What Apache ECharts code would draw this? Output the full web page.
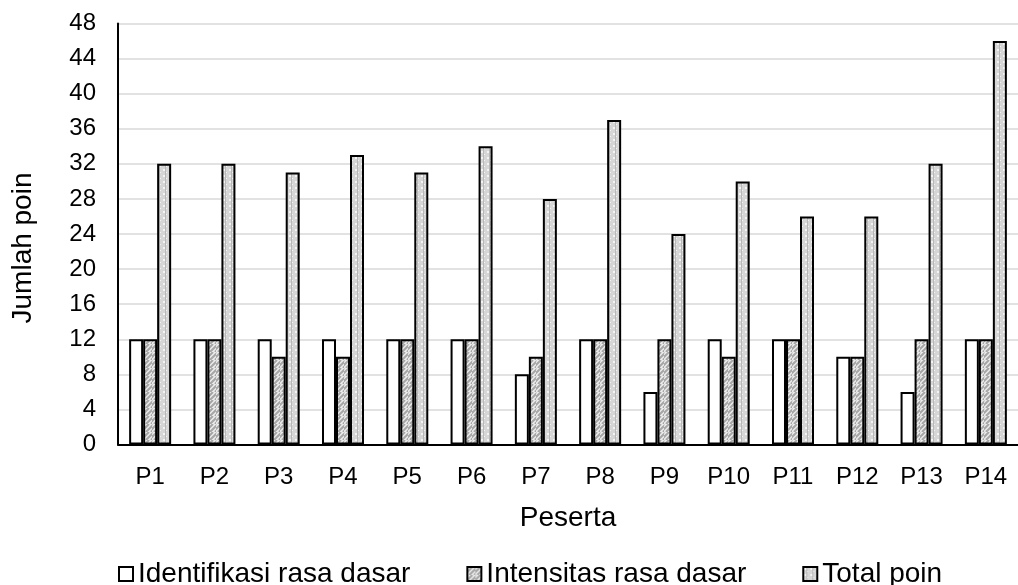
<!DOCTYPE html>
<html>
<head>
<meta charset="utf-8">
<script src="https://cdn.jsdelivr.net/npm/echarts@6/dist/echarts.min.js"></script>
<style>
html,body{margin:0;padding:0;background:#fff;}
#chart{width:1018px;height:585px;}
</style>
</head>
<body>
<div id="chart"></div>
<script>
const categories = ['P1','P2','P3','P4','P5','P6','P7','P8','P9','P10','P11','P12','P13','P14'];
const identifikasi = [12,12,12,12,12,12,8,12,6,12,12,10,6,12];
const intensitas = [12,12,10,10,12,12,10,12,12,10,12,10,12,12];
const totalPoin = [32,32,31,33,31,34,28,37,24,30,26,26,32,46];
const seriesNames = ['Identifikasi rasa dasar','Intensitas rasa dasar','Total poin'];

// diagonal hatch fill
function hatchPattern() {
  const c = document.createElement('canvas');
  c.width = 8; c.height = 8;
  const g = c.getContext('2d');
  g.fillStyle = '#ececec';
  g.fillRect(0, 0, 8, 8);
  g.strokeStyle = '#a6a6a6';
  g.lineWidth = 2;
  for (let k = -8; k <= 16; k += 5) {
    g.beginPath();
    g.moveTo(k, 8);
    g.lineTo(k + 8, 0);
    g.stroke();
  }
  return c;
}
// light dotted grid fill
function dotPattern() {
  const c = document.createElement('canvas');
  c.width = 6; c.height = 6;
  const g = c.getContext('2d');
  g.fillStyle = '#d6d6d6';
  g.fillRect(0, 0, 6, 6);
  g.fillStyle = '#f4f4f4';
  g.fillRect(1, 1, 2, 2);
  g.fillRect(4, 4, 1, 1);
  g.fillStyle = '#b8b8b8';
  g.fillRect(3, 0, 1, 6);
  return c;
}

const font = 'Liberation Sans, Arial, sans-serif';
const chart = echarts.init(document.getElementById('chart'));
chart.setOption({
  animation: false,
  backgroundColor: '#fff',
  textStyle: { fontFamily: font },
  grid: { left: 118, right: -7, top: 23.5, bottom: 140.5, containLabel: false },
  legend: {
    top: 555,
    left: 113,
    itemWidth: 14,
    itemHeight: 14,
    itemGap: 56,
    textStyle: { fontSize: 28, color: '#000', fontFamily: font },
    data: seriesNames.map(n => ({ name: n, icon: 'rect' }))
  },
  xAxis: {
    type: 'category',
    data: categories,
    name: 'Peserta',
    nameLocation: 'middle',
    nameGap: 60,
    nameTextStyle: { fontSize: 28, color: '#000' },
    axisLine: { lineStyle: { color: '#000', width: 2 } },
    axisTick: { show: false },
    axisLabel: { fontSize: 24, color: '#000', margin: 21 }
  },
  yAxis: {
    type: 'value',
    min: 0,
    max: 48,
    interval: 4,
    name: 'Jumlah poin',
    nameLocation: 'middle',
    nameGap: 81,
    nameTextStyle: { fontSize: 28, color: '#000', padding: [0, 28, 0, 0] },
    axisLine: { show: true, lineStyle: { color: '#000', width: 2 } },
    axisTick: { show: false },
    axisLabel: { fontSize: 24, color: '#000', margin: 22 },
    splitLine: { lineStyle: { color: '#d9d9d9', width: 1.5 } }
  },
  series: [
    {
      name: seriesNames[0], type: 'bar', data: identifikasi,
      barWidth: 14, barGap: '0%',
      itemStyle: { color: '#fff', borderColor: '#000', borderWidth: 2 }
    },
    {
      name: seriesNames[1], type: 'bar', data: intensitas,
      barWidth: 14, barGap: '0%',
      itemStyle: { color: { image: hatchPattern(), repeat: 'repeat' }, borderColor: '#000', borderWidth: 2 }
    },
    {
      name: seriesNames[2], type: 'bar', data: totalPoin,
      barWidth: 14, barGap: '0%',
      itemStyle: { color: { image: dotPattern(), repeat: 'repeat' }, borderColor: '#000', borderWidth: 2 }
    }
  ]
});
</script>
</body>
</html>
